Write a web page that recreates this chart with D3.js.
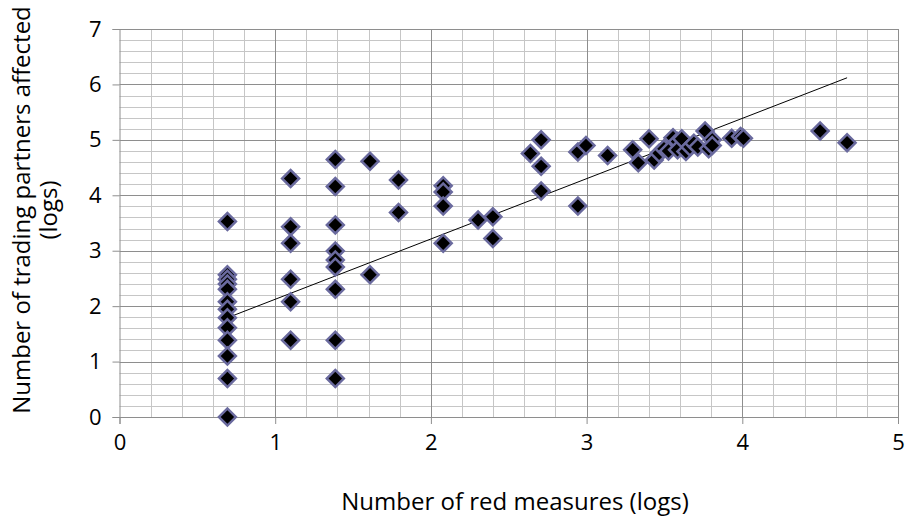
<!DOCTYPE html>
<html>
<head>
<meta charset="utf-8">
<script src="https://cdn.jsdelivr.net/npm/d3@7"></script>
<style>
  html, body { margin: 0; padding: 0; background: #fff; }
  svg { display: block; }
  text { font-family: "Open Sans", "Lato", sans-serif; fill: #000; }
</style>
</head>
<body>
<svg id="chart" width="905" height="521"></svg>
<script>
// Number of red measures (logs) for each observation
const redMeasures = [
  0.693, 0.693, 0.693, 0.693, 0.693, 0.693, 0.693, 0.693, 0.693, 0.693, 0.693, 0.693, 0.693,
  1.099, 1.099, 1.099, 1.099, 1.099, 1.099,
  1.386, 1.386, 1.386, 1.386, 1.386, 1.386, 1.386, 1.386, 1.386,
  1.609, 1.609,
  1.792, 1.792,
  2.079, 2.079, 2.079, 2.079,
  2.303,
  2.398, 2.398,
  2.639,
  2.708, 2.708, 2.708,
  2.944, 2.944,
  2.996,
  3.135,
  3.296,
  3.332,
  3.401, 3.434, 3.466, 3.497, 3.526, 3.555, 3.584, 3.584, 3.611, 3.638,
  3.664, 3.689, 3.714, 3.761, 3.784, 3.807, 3.807, 3.932, 3.989, 4.007,
  4.500,
  4.673
];

// Number of trading partners affected (logs), same order
const partnersAffected = [
  3.526, 2.565, 2.485, 2.398, 2.303, 2.079, 1.946, 1.792, 1.609, 1.386, 1.099, 0.693, 0.000,
  4.304, 3.434, 3.135, 2.485, 2.079, 1.386,
  4.644, 4.159, 3.466, 2.996, 2.833, 2.708, 2.303, 1.386, 0.693,
  4.615, 2.565,
  4.277, 3.689,
  4.174, 4.060, 3.807, 3.135,
  3.555,
  3.611, 3.219,
  4.754,
  5.000, 4.522, 4.078,
  4.779, 3.807,
  4.898,
  4.718,
  4.820,
  4.585,
  5.020, 4.635, 4.760, 4.840, 4.800, 5.040, 4.970, 4.820, 5.020, 4.790,
  4.870, 4.940, 4.870, 5.160, 4.840, 5.000, 4.900, 5.030, 5.060, 5.030,
  5.160,
  4.950
];

// Linear trend line end points (x, y)
const trendX = [0.693, 4.673];
const trendY = [1.79, 6.12];

const xTicks = [0, 1, 2, 3, 4, 5];
const yTicks = [0, 1, 2, 3, 4, 5, 6, 7];
const xLabel = "Number of red measures (logs)";
const yLabelLines = ["Number of trading partners affected", "(logs)"];

const svg = d3.select("#chart");
const plotLeft = 119.5, plotRight = 898, plotTop = 29, plotBottom = 417;

const x = d3.scaleLinear().domain([0, 5]).range([plotLeft, plotRight]);
const y = d3.scaleLinear().domain([0, 7]).range([plotBottom, plotTop]);

// Minor grid (every 0.2)
const minorX = d3.range(0, 5.0001, 0.2).map(v => +v.toFixed(1)).filter(v => !xTicks.includes(v));
const minorY = d3.range(0, 7.0001, 0.2).map(v => +v.toFixed(1)).filter(v => !yTicks.includes(v));

const grid = svg.append("g");
grid.selectAll("line.mx").data(minorX).join("line")
  .attr("x1", d => Math.round(x(d)) + 0.5).attr("x2", d => Math.round(x(d)) + 0.5)
  .attr("y1", plotTop).attr("y2", plotBottom)
  .attr("stroke", "#c6c6c6").attr("stroke-width", 1);
grid.selectAll("line.my").data(minorY).join("line")
  .attr("y1", d => Math.round(y(d)) + 0.5).attr("y2", d => Math.round(y(d)) + 0.5)
  .attr("x1", plotLeft).attr("x2", plotRight)
  .attr("stroke", "#c6c6c6").attr("stroke-width", 1);

// Major grid
grid.selectAll("line.Mx").data(xTicks.slice(1)).join("line")
  .attr("x1", d => Math.round(x(d)) + 0.5).attr("x2", d => Math.round(x(d)) + 0.5)
  .attr("y1", plotTop).attr("y2", plotBottom)
  .attr("stroke", "#8e8e8e").attr("stroke-width", 1);
grid.selectAll("line.My").data(yTicks.slice(1)).join("line")
  .attr("y1", d => Math.round(y(d)) + 0.5).attr("y2", d => Math.round(y(d)) + 0.5)
  .attr("x1", plotLeft).attr("x2", plotRight)
  .attr("stroke", "#8e8e8e").attr("stroke-width", 1);

// Axes
const xAxis = d3.axisBottom(x).tickValues(xTicks).tickSize(7).tickPadding(10).tickFormat(d3.format("d"));
const yAxis = d3.axisLeft(y).tickValues(yTicks).tickSize(7).tickPadding(11).tickFormat(d3.format("d"));

const gx = svg.append("g").attr("transform", `translate(0,${plotBottom})`).call(xAxis);
const gy = svg.append("g").attr("transform", `translate(${plotLeft},0)`).call(yAxis);
[gx, gy].forEach(g => {
  g.select(".domain").attr("stroke", "#8e8e8e");
  g.selectAll(".tick line").attr("stroke", "#8e8e8e");
  g.selectAll(".tick text").style("font-size", "22px").attr("fill", "#000");
});

// Trend line
svg.append("line")
  .attr("x1", x(trendX[0])).attr("y1", y(trendY[0]))
  .attr("x2", x(trendX[1])).attr("y2", y(trendY[1]))
  .attr("stroke", "#000").attr("stroke-width", 1);

// Diamond markers
const points = redMeasures.map((v, i) => ({ x: v, y: partnersAffected[i] }));
const diamond = d3.symbol().type(d3.symbolSquare).size(144);
svg.append("g").selectAll("path").data(points).join("path")
  .attr("d", diamond)
  .attr("transform", d => `translate(${x(d.x)},${y(d.y)}) rotate(45)`)
  .attr("fill", "#000")
  .attr("stroke", "#6a6a9e")
  .attr("stroke-width", 2.5);

// Axis titles
svg.append("text")
  .attr("x", 515).attr("y", 510)
  .attr("text-anchor", "middle")
  .style("font-size", "24px")
  .text(xLabel);

const yl = svg.append("text")
  .attr("transform", "translate(22,210) rotate(-90)")
  .attr("text-anchor", "middle")
  .style("font-size", "24px");
yl.append("tspan").attr("x", 0).attr("y", 0).attr("dy", "0.35em").text(yLabelLines[0]);
yl.append("tspan").attr("x", 0).attr("y", 27).attr("dy", "0.35em").text(yLabelLines[1]);
</script>
</body>
</html>
